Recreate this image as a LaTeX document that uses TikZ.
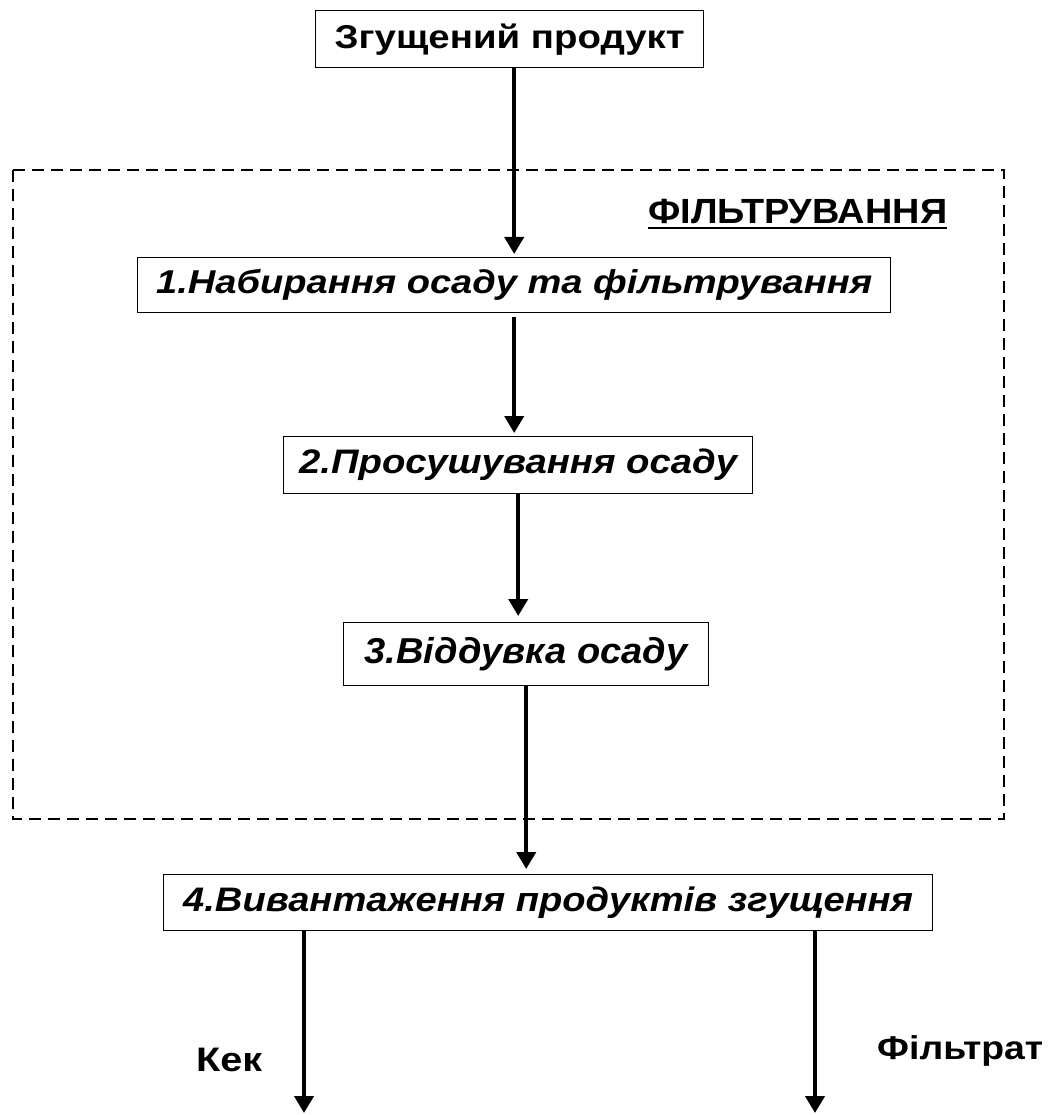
\documentclass[tikz,border=0pt]{standalone}
\usepackage{fontspec}
\setmainfont{Liberation Sans}
\usetikzlibrary{arrows.meta,calc}
% stretch a text horizontally to a given width, keeping its height
\newcommand{\fitto}[2]{\resizebox{#1pt}{\height}{#2}}
\tikzset{
  stepbox/.style={draw, line width=1.4pt, inner sep=0pt, anchor=north west,
    font=\bfseries\itshape},
  flow/.style={line width=4pt, -{Triangle[length=17pt,width=19pt]}},
  stagebox/.style={draw, line width=1.4pt, dash pattern=on 12pt off 7pt},
  plain/.style={inner sep=0pt, anchor=base west, font=\bfseries},
}
\begin{document}
\begin{tikzpicture}[x=1pt,y=1pt]
\useasboundingbox (0,0) rectangle (1050,-1115);

% filtration stage frame
\draw[stagebox] (13,-170) rectangle (1004,-819);
\node[plain, font=\fontsize{35}{40}\selectfont\bfseries] (stage) at (648,-224)
  {\fitto{299}{ФІЛЬТРУВАННЯ}};
\draw[line width=2pt] ([yshift=-4.5pt]stage.base west) -- ([yshift=-4.5pt]stage.base east);

% process boxes
\node[stepbox, minimum width=388pt, minimum height=57pt, font=\fontsize{33}{38}\selectfont\bfseries]
  (feed) at (315,-10) {\fitto{350}{Згущений продукт}};
\node[stepbox, minimum width=753pt, minimum height=55pt, font=\fontsize{33}{38}\selectfont\bfseries\itshape]
  (s1) at (137,-257) {\fitto{716}{1.Набирання осаду та фільтрування}};
\node[stepbox, minimum width=469pt, minimum height=57pt, font=\fontsize{34}{39}\selectfont\bfseries\itshape]
  (s2) at (283,-436) {\fitto{438}{2.Просушування осаду}};
\node[stepbox, minimum width=365pt, minimum height=63pt, font=\fontsize{36}{41}\selectfont\bfseries\itshape]
  (s3) at (343,-622) {\fitto{323}{3.Віддувка осаду}};
\node[stepbox, minimum width=769pt, minimum height=56pt, font=\fontsize{34}{39}\selectfont\bfseries\itshape]
  (s4) at (163,-874) {\fitto{730}{4.Вивантаження продуктів згущення}};

% outputs
\coordinate (cakeout) at (304,-1113);
\coordinate (filtout) at (815,-1113);
\node[plain, font=\fontsize{34}{39}\selectfont\bfseries] (cake) at (196,-1071) {\fitto{66}{Кек}};
\node[plain, font=\fontsize{33}{38}\selectfont\bfseries] (filt) at (877,-1059) {\fitto{166}{Фільтрат}};

% connectors
\draw[flow, shorten >=3pt] (feed.south -| s1.north) -- (s1.north);
\draw[flow, shorten >=3pt, shorten <=4pt] (s1.south) -- (s2.north -| s1.south);
\draw[flow, shorten >=6pt] (s2.south) -- (s3.north -| s2.south);
\draw[flow, shorten >=5pt] (s3.south) -- (s4.north -| s3.south);
\draw[flow] (s4.south -| cakeout) -- (cakeout);
\draw[flow] (s4.south -| filtout) -- (filtout);
\end{tikzpicture}
\end{document}
